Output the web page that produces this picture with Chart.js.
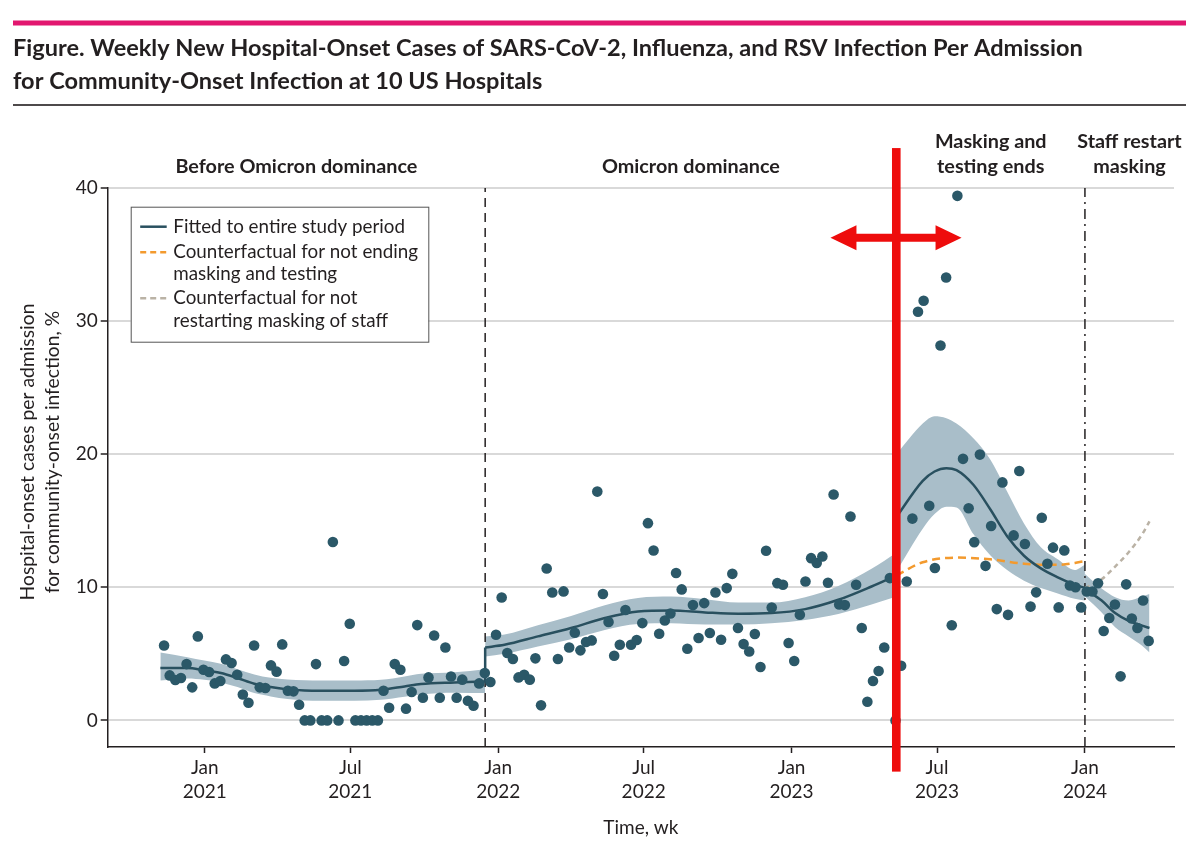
<!DOCTYPE html>
<html>
<head>
<meta charset="utf-8">
<script src="https://cdn.jsdelivr.net/npm/chart.js@4.4.1/dist/chart.umd.min.js"></script>
<style>
  html, body { margin: 0; padding: 0; background: #fff; }
  canvas { display: block; }
</style>
</head>
<body>
<canvas id="chart" width="1200" height="862"></canvas>
<script>
// ---------------- DATA (x = weeks since 1 Jan 2021) ----------------
const titleLines = [
  "Figure. Weekly New Hospital-Onset Cases of SARS-CoV-2, Influenza, and RSV Infection Per Admission",
  "for Community-Onset Infection at 10 US Hospitals"
];
const yTitleLines = ["Hospital-onset cases per admission", "for community-onset infection, %"];
const xTitle = "Time, wk";

const xTickWeeks = [0, 25.86, 52.14, 78.0, 104.29, 130.14, 156.43];
const xTickLabels = [["Jan", "2021"], ["Jul", "2021"], ["Jan", "2022"], ["Jul", "2022"], ["Jan", "2023"], ["Jul", "2023"], ["Jan", "2024"]];
const yTicks = [0, 10, 20, 30, 40];

const phaseLabels = [["Before Omicron dominance"], ["Omicron dominance"], ["Masking and", "testing ends"], ["Staff restart", "masking"]];
const omicronStartWeek = 49.83;
const maskingEndWeek = 122.95;
const staffMaskingWeek = 156.43;

const legendLabels = [
  ["Fitted to entire study period"],
  ["Counterfactual for not ending", "masking and testing"],
  ["Counterfactual for not", "restarting masking of staff"]
];

// weekly observed rate (%), first observation week:
const firstObservationWeek = -7.24;
const observedRate = [
  5.63, 3.38, 3.03, 3.18, 4.23, 2.48, 6.31, 3.80, 3.63, 2.78,
  2.96, 4.58, 4.31, 3.43, 1.95, 1.33, 5.63, 2.48, 2.43, 4.13,
  3.66, 5.71, 2.23, 2.18, 1.18, 0, 0, 4.23, 0, 0,
  13.4, 0, 4.46, 7.26, 0, 0, 0, 0, 0, 2.23,
  0.95, 4.23, 3.80, 0.88, 2.13, 7.16, 1.70, 3.23, 6.38, 1.70,
  5.48, 3.30, 1.70, 3.06, 1.48, 1.10, 2.78, 3.56, 2.88, 6.43,
  9.23,
  5.06, 4.61, 3.23, 3.43, 3.06, 4.66, 1.13, 11.41, 9.61, 4.61,
  9.69, 5.48, 6.58, 5.26, 5.89, 6.01, 17.19, 9.49, 7.39, 4.86,
  5.68, 8.29, 5.68, 6.04, 7.31, 14.82, 12.76, 6.51, 7.51, 8.03,
  11.07, 9.84, 5.38, 8.66, 6.19, 8.81, 6.56, 9.61, 6.06, 9.94,
  11.01, 6.94, 5.73, 5.18, 6.49, 4.01, 12.74, 8.48, 10.31, 10.19,
  5.81, 4.46, 7.94, 10.44, 12.19, 11.82, 12.31, 10.34, 16.97, 8.71,
  8.66, 15.32, 10.19, 6.94, 1.40, 2.96, 3.71, 5.48, 10.69,
  0, 4.11, 10.43, 15.16, 30.7, 31.53, 16.13, 11.45, 28.17, 33.28,
  7.15, 39.41, 19.65, 15.94, 13.39, 19.97, 11.61, 14.6, 8.36, 17.88,
  7.93, 13.9, 18.74, 13.25, 8.55, 9.62, 15.22, 11.77, 12.98, 8.49,
  12.77, 10.13, 10.0, 8.49, 9.68, 9.68, 10.3, 6.72, 7.69, 8.71,
  3.31, 10.22, 7.66, 6.94, 9.01, 5.97
];

// fitted model, by period
const seg1Weeks = [-7.9, -3.1, -0.1, 2.85, 5.8, 8.8, 11.7, 14.7, 17.7, 20.6, 26.6, 31.3, 35.5, 38.4, 44.4, 49.83];
const seg1Fit   = [3.93, 3.93, 3.76, 3.56, 3.18, 2.75, 2.5, 2.33, 2.25, 2.23, 2.23, 2.3, 2.55, 2.73, 2.85, 2.93];
const seg1Lower = [3.0, 3.15, 3.05, 2.85, 2.5, 2.05, 1.8, 1.6, 1.5, 1.47, 1.47, 1.55, 1.78, 1.95, 2.08, 2.05];
const seg1Upper = [5.1, 4.75, 4.5, 4.25, 3.85, 3.45, 3.2, 3.08, 3.02, 3.0, 3.0, 3.05, 3.3, 3.5, 3.62, 3.85];

const seg2Weeks = [49.83, 53.27, 59.2, 65.1, 71.1, 77.0, 82.9, 88.9, 94.8, 100.7, 106.7, 112.6, 118.5, 122.95];
const seg2Fit   = [5.48, 5.68, 6.31, 6.94, 7.69, 8.18, 8.26, 8.11, 8.01, 8.06, 8.36, 9.06, 10.06, 10.9];
const seg2Lower = [4.8, 5.0, 5.55, 6.1, 6.8, 7.25, 7.3, 7.2, 7.2, 7.3, 7.55, 8.0, 8.7, 9.3];
const seg2Upper = [6.3, 6.45, 7.15, 7.85, 8.65, 9.2, 9.3, 9.1, 8.85, 8.85, 9.25, 10.1, 11.4, 12.6];

const seg3Weeks = [122.95, 127.6, 129.7, 131.8, 133.6, 136.6, 139.6, 142.6, 145.6, 148.6, 151.6, 154.6, 156.43];
const seg3Fit   = [15.3, 18.0, 18.7, 18.95, 18.8, 17.7, 15.86, 13.84, 12.37, 11.42, 10.75, 10.2, 9.95];
const seg3Lower = [11.2, 14.4, 15.5, 16.05, 16.0, 14.0, 12.4, 11.3, 10.5, 9.95, 9.54, 9.14, 9.0];
const seg3Upper = [20.0, 22.3, 22.85, 22.7, 22.3, 21.2, 19.6, 17.2, 14.8, 13.0, 12.1, 11.3, 11.7];

const seg4Weeks = [156.43, 159.4, 161.8, 164.2, 166.6, 167.9];
const seg4Fit   = [9.85, 9.0, 8.06, 7.47, 7.12, 6.94];
const seg4Lower = [9.3, 8.1, 7.0, 6.3, 5.6, 5.1];
const seg4Upper = [11.0, 9.9, 9.25, 9.0, 9.3, 9.5];

// counterfactuals
const cfMaskWeeks  = [122.95, 127.6, 133.6, 139.6, 145.6, 151.6, 156.43];
const cfMaskValues = [10.9, 11.88, 12.23, 12.1, 11.77, 11.69, 11.96];
const cfStaffWeeks  = [156.43, 159.4, 161.8, 164.2, 166.6, 167.9];
const cfStaffValues = [9.95, 10.6, 11.56, 12.63, 13.98, 14.95];

// red overlay annotation (data units)
const redLineWeek = 122.9;
const redLineFrom = -3.85, redLineTo = 43.0;
const redArrowValue = 36.26, redArrowFromWeek = 111.2, redArrowToWeek = 134.5;

// ---------------- STYLE ----------------
function pickFont(cands) {
  const c = document.createElement('canvas').getContext('2d');
  const s = 'Fitted to entire study period 2021';
  c.font = '40px monospace'; const m = c.measureText(s).width;
  for (const f of cands) {
    c.font = `40px "${f}", monospace`; const a = c.measureText(s).width;
    c.font = `40px "${f}", serif`; const b = c.measureText(s).width;
    if (a === b && a !== m) return f;
  }
  return 'sans-serif';
}
const FONT = pickFont(['Lato', 'Roboto', 'DejaVu Sans']);
const INK = '#231f20';
const TEAL = '#2b5868';
const FITC = '#29505f';
const BAND = '#a9bec9';
const ORANGE = '#f39a2e';
const TAN = '#bab2a5';
const RED = '#ee0c0c';

function fitSize(text, weight, target, maxSize) {
  const c = document.createElement('canvas').getContext('2d');
  c.font = `${weight} 100px "${FONT}"`;
  return Math.min(maxSize, 100 * target / c.measureText(text).width);
}
const titleSize = fitSize(titleLines[0], 'bold', 1070, 26);
const phaseSize = fitSize(phaseLabels[1][0], 'bold', 178, 22);
const legendSize = fitSize(legendLabels[1][0], 'normal', 245, 20);
const yTitleSize = fitSize(yTitleLines[0], 'normal', 297, 20);

const pts = (ws, vs) => ws.map((w, i) => ({ x: w, y: vs[i] }));

function curve(ws, vs, color, width, dash, order) {
  return { type: 'line', data: pts(ws, vs), borderColor: color, borderWidth: width, borderDash: dash || [],
           pointRadius: 0, fill: false, cubicInterpolationMode: 'monotone', order: order };
}
function band(ws, lo, hi) {
  return [
    { type: 'line', data: pts(ws, lo), borderWidth: 0, borderColor: 'rgba(0,0,0,0)', pointRadius: 0, fill: false, cubicInterpolationMode: 'monotone', order: 5 },
    { type: 'line', data: pts(ws, hi), borderWidth: 0, borderColor: 'rgba(0,0,0,0)', pointRadius: 0, fill: '-1', backgroundColor: BAND, cubicInterpolationMode: 'monotone', order: 5 }
  ];
}

const datasets = [
  ...band(seg1Weeks, seg1Lower, seg1Upper),
  ...band(seg2Weeks, seg2Lower, seg2Upper),
  ...band(seg3Weeks, seg3Lower, seg3Upper),
  ...band(seg4Weeks, seg4Lower, seg4Upper),
  // period boundaries
  { type: 'line', data: [{ x: omicronStartWeek, y: -2 }, { x: omicronStartWeek, y: 40 }], borderColor: INK, borderWidth: 1.5, borderDash: [9, 6], pointRadius: 0, fill: false, order: 3 },
  { type: 'line', data: [{ x: staffMaskingWeek, y: -2 }, { x: staffMaskingWeek, y: 40 }], borderColor: INK, borderWidth: 1.5, borderDash: [10, 5, 2, 5], pointRadius: 0, fill: false, order: 3 },
  curve(seg1Weeks, seg1Fit, FITC, 2.5, null, 1),
  { type: 'line', data: [{ x: omicronStartWeek, y: seg1Fit[seg1Fit.length - 1] }, { x: omicronStartWeek, y: seg2Fit[0] }], borderColor: FITC, borderWidth: 2.5, pointRadius: 0, fill: false, order: 1 },
  curve(seg2Weeks, seg2Fit, FITC, 2.5, null, 1),
  curve(seg3Weeks, seg3Fit, FITC, 2.5, null, 1),
  curve(seg4Weeks, seg4Fit, FITC, 2.5, null, 1),
  curve(cfMaskWeeks, cfMaskValues, ORANGE, 2.5, [8, 5], 1),
  curve(cfStaffWeeks, cfStaffValues, TAN, 2.5, [5, 4], 1),
  { type: 'scatter', data: observedRate.map((v, i) => ({ x: firstObservationWeek + i, y: v })),
    backgroundColor: TEAL, borderWidth: 0, pointRadius: 5.3, pointHoverRadius: 5.3, order: 0 }
];

const decor = {
  id: 'decor',
  beforeDraw(chart) {
    const ctx = chart.ctx;
    ctx.save();
    ctx.fillStyle = '#fff';
    ctx.fillRect(0, 0, chart.width, chart.height);
    ctx.fillStyle = '#e2176f';
    ctx.fillRect(13, 20.5, 1173, 5);
    ctx.fillStyle = INK;
    ctx.fillRect(13, 104.2, 1173, 1.6);
    ctx.restore();
  },
  afterDraw(chart) {
    const ctx = chart.ctx;
    const x = chart.scales.x, y = chart.scales.y;
    const area = chart.chartArea;
    ctx.save();
    // period labels
    ctx.fillStyle = INK;
    ctx.font = `bold ${phaseSize}px "${FONT}"`;
    ctx.textAlign = 'center';
    ctx.textBaseline = 'middle';
    const bounds = [x.min, omicronStartWeek, maskingEndWeek, staffMaskingWeek, x.max];
    phaseLabels.forEach((lines, i) => {
      const cx = (x.getPixelForValue(bounds[i]) + x.getPixelForValue(bounds[i + 1])) / 2;
      lines.forEach((t, j) => {
        ctx.fillText(t, cx, area.top - 21.5 - (lines.length - 1 - j) * 25);
      });
    });
    // y-axis title
    ctx.font = `${yTitleSize}px "${FONT}"`;
    ctx.save();
    ctx.translate(28, 452);
    ctx.rotate(-Math.PI / 2);
    ctx.fillText(yTitleLines[0], 0, 0);
    ctx.restore();
    ctx.save();
    ctx.translate(53, 452);
    ctx.rotate(-Math.PI / 2);
    ctx.fillText(yTitleLines[1], 0, 0);
    ctx.restore();
    // legend
    const bx = area.left + 23, by = area.top + 18.7, bw = 297.6, bh = 135;
    ctx.fillStyle = '#fff';
    ctx.fillRect(bx, by, bw, bh);
    ctx.strokeStyle = '#555';
    ctx.lineWidth = 1;
    ctx.strokeRect(bx + 0.5, by + 0.5, bw, bh);
    const rows = [[20], [45.6, 67.3], [91.6, 114]];
    const styles = [[FITC, []], [ORANGE, [6, 4]], [TAN, [6, 4]]];
    ctx.font = `${legendSize}px "${FONT}"`;
    ctx.textAlign = 'left';
    legendLabels.forEach((lines, i) => {
      const ry = by + rows[i][0];
      ctx.strokeStyle = styles[i][0];
      ctx.setLineDash(styles[i][1]);
      ctx.lineWidth = 2.5;
      ctx.beginPath();
      ctx.moveTo(bx + 9.5, ry);
      ctx.lineTo(bx + 36, ry);
      ctx.stroke();
      ctx.setLineDash([]);
      ctx.fillStyle = INK;
      lines.forEach((t, j) => ctx.fillText(t, bx + 42.6, by + rows[i][j]));
    });
    // red overlay annotation
    ctx.fillStyle = RED;
    const rx = x.getPixelForValue(redLineWeek);
    const rTop = y.getPixelForValue(redLineTo), rBot = y.getPixelForValue(redLineFrom);
    ctx.fillRect(rx - 4.3, rTop, 8.6, rBot - rTop);
    const ay = y.getPixelForValue(redArrowValue);
    const ax1 = x.getPixelForValue(redArrowFromWeek), ax2 = x.getPixelForValue(redArrowToWeek);
    const head = 26, hh = 12.5, sh = 4;
    ctx.beginPath();
    ctx.moveTo(ax1, ay);
    ctx.lineTo(ax1 + head, ay - hh);
    ctx.lineTo(ax1 + head, ay - sh);
    ctx.lineTo(ax2 - head, ay - sh);
    ctx.lineTo(ax2 - head, ay - hh);
    ctx.lineTo(ax2, ay);
    ctx.lineTo(ax2 - head, ay + hh);
    ctx.lineTo(ax2 - head, ay + sh);
    ctx.lineTo(ax1 + head, ay + sh);
    ctx.lineTo(ax1 + head, ay + hh);
    ctx.closePath();
    ctx.fill();
    ctx.restore();
  }
};

new Chart(document.getElementById('chart'), {
  type: 'scatter',
  data: { datasets },
  options: {
    responsive: false,
    animation: false,
    devicePixelRatio: 1,
    events: [],
    layout: { padding: { left: 13, right: 26, top: 0, bottom: 0 } },
    plugins: {
      legend: { display: false },
      tooltip: { enabled: false },
      title: {
        display: true, text: titleLines, align: 'start', color: INK,
        font: { family: FONT, size: titleSize, weight: 'bold', lineHeight: 33 / titleSize },
        padding: { top: 31.5, bottom: 90.5 }
      }
    },
    scales: {
      x: {
        type: 'linear', min: -17.26, max: 172.26,
        afterBuildTicks: s => { s.ticks = xTickWeeks.map(v => ({ value: v })); },
        afterFit: s => { s.height = 115; },
        ticks: { callback: (v, i) => xTickLabels[i], autoSkip: false, maxRotation: 0, padding: 3, color: INK,
                 font: { family: FONT, size: 19, lineHeight: 24 / 19 } },
        grid: { drawOnChartArea: false, drawTicks: true, tickLength: 6, tickColor: INK, tickWidth: 1.5 },
        border: { display: true, color: INK, width: 1.5 },
        title: { display: true, text: xTitle, color: INK, font: { family: FONT, size: 19 }, padding: { top: 0, bottom: 22.6 } }
      },
      y: {
        type: 'linear', min: -2, max: 40,
        afterBuildTicks: s => { s.ticks = yTicks.map(v => ({ value: v })); },
        afterFit: s => { s.width = 94.7; },
        ticks: { padding: 3, color: INK, font: { family: FONT, size: 19 } },
        grid: { color: '#d9d9d9', lineWidth: 2, drawTicks: true, tickLength: 7, tickColor: INK, tickWidth: 1.5 },
        border: { display: true, color: INK, width: 1.5 }
      }
    }
  },
  plugins: [decor]
});
</script>
</body>
</html>
